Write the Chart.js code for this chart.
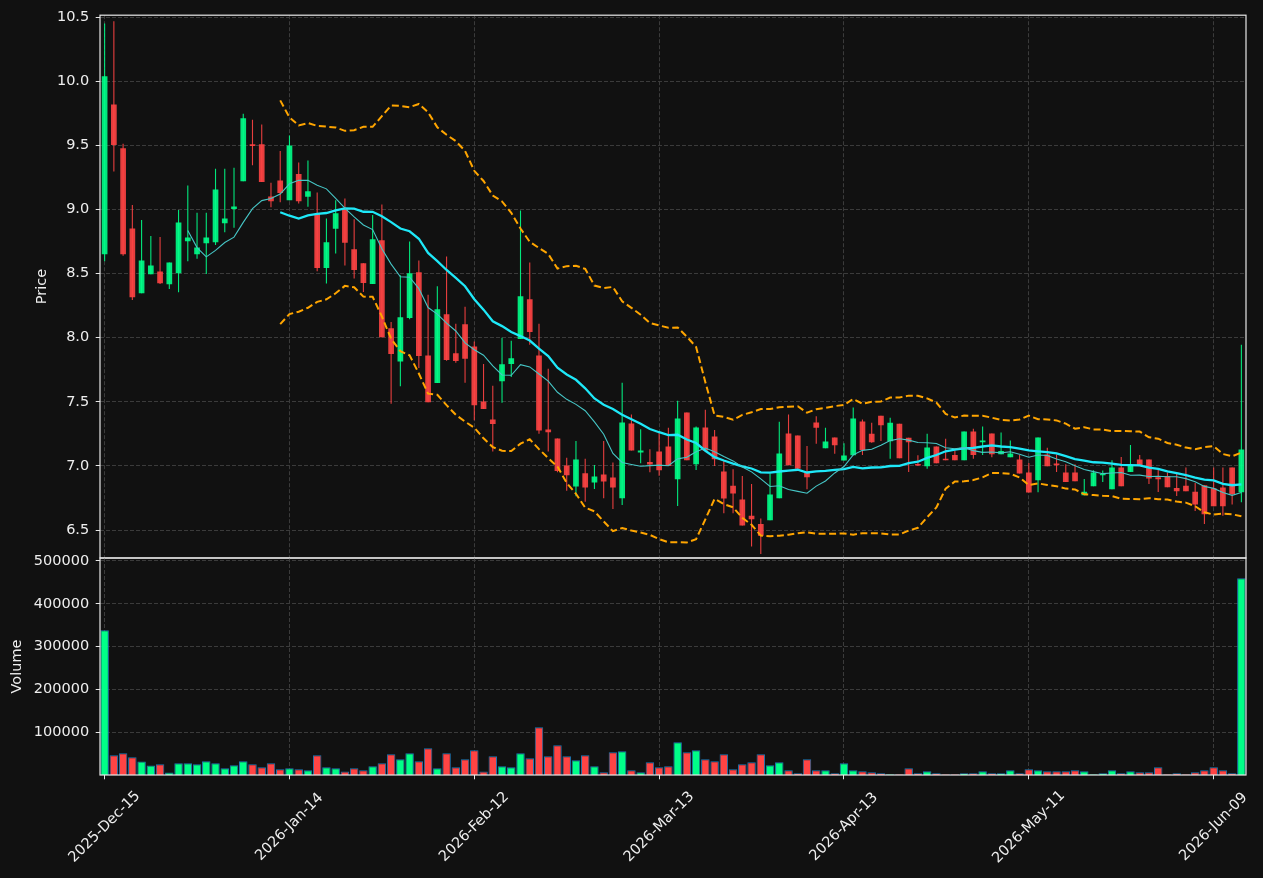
<!DOCTYPE html>
<html>
<head>
<meta charset="utf-8">
<script src="https://cdn.jsdelivr.net/npm/chart.js@4.4.1/dist/chart.umd.min.js"></script>
<style>
html, body { margin: 0; padding: 0; background: #111111; }
#wrap { position: relative; width: 1263px; height: 878px; background: #111111; }
canvas { position: absolute; left: 0; top: 0; }
</style>
</head>
<body>
<div id="wrap">
  <canvas id="price" width="1263" height="878"></canvas>
  <canvas id="vol" width="1263" height="878"></canvas>
</div>
<script>
// ---- data ----
const tickLabels = ['2025-Dec-15', '2026-Jan-14', '2026-Feb-12', '2026-Mar-13', '2026-Apr-13', '2026-May-11', '2026-Jun-09'];
const tickIndex = [0, 20, 40, 60, 80, 100, 120];
const priceTicks = [6.5, 7.0, 7.5, 8.0, 8.5, 9.0, 9.5, 10.0, 10.5];
const volumeTicks = [100000, 200000, 300000, 400000, 500000];

const open = [
  8.651, 9.820, 9.477, 8.852, 8.346, 8.495, 8.516, 8.417, 8.503, 8.753,
  8.651, 8.737, 8.745, 8.893, 9.003, 9.221, 9.508, 9.508, 9.102, 9.227,
  9.073, 9.276, 9.099, 8.964, 8.544, 8.849, 9.008, 8.690, 8.581, 8.419,
  8.760, 8.073, 7.815, 8.154, 8.510, 7.862, 7.646, 8.182, 7.878, 8.104,
  7.932, 7.503, 7.362, 7.661, 7.794, 7.990, 8.299, 7.862, 7.284, 7.214,
  7.003, 6.839, 6.943, 6.870, 6.932, 6.909, 6.747, 7.331, 7.104, 7.030,
  7.112, 7.151, 6.896, 7.417, 7.013, 7.299, 7.229, 6.956, 6.846, 6.737,
  6.612, 6.547, 6.576, 6.747, 7.253, 7.237, 6.945, 7.339, 7.138, 7.221,
  7.042, 7.083, 7.346, 7.250, 7.391, 7.193, 7.328, 7.219, 7.010, 6.997,
  7.151, 7.049, 7.086, 7.044, 7.268, 7.185, 7.253, 7.091, 7.068, 7.049,
  6.948, 6.888, 7.089, 7.018, 6.948, 6.948, 6.771, 6.841, 6.927, 6.818,
  6.987, 6.953, 7.049, 7.049, 6.911, 6.922, 6.828, 6.846, 6.799, 6.849,
  6.826, 6.831, 6.987, 6.794
];
const high = [
  10.450, 10.469, 9.513, 9.036, 8.919, 8.794, 8.786, 8.586, 8.997, 9.188,
  8.974, 8.974, 9.318, 9.318, 9.326, 9.747, 9.700, 9.664, 9.208, 9.456,
  9.578, 9.367, 9.383, 9.133, 8.930, 9.073, 9.086, 8.924, 8.581, 8.958,
  9.039, 8.122, 8.487, 8.750, 8.602, 8.336, 8.401, 8.633, 8.109, 8.242,
  7.971, 7.794, 7.625, 8.000, 7.977, 8.992, 8.586, 8.109, 7.758, 7.214,
  7.063, 7.195, 7.055, 7.008, 7.195, 7.026, 7.648, 7.401, 7.286, 7.130,
  7.258, 7.297, 7.508, 7.417, 7.307, 7.438, 7.281, 7.042, 6.974, 6.922,
  6.859, 6.589, 6.940, 7.344, 7.401, 7.237, 7.156, 7.388, 7.297, 7.221,
  7.177, 7.456, 7.362, 7.336, 7.391, 7.375, 7.328, 7.219, 7.083, 7.250,
  7.151, 7.211, 7.120, 7.268, 7.289, 7.307, 7.253, 7.260, 7.198, 7.086,
  7.023, 7.221, 7.141, 7.089, 7.013, 7.013, 6.898, 6.966, 6.964, 7.044,
  7.070, 7.164, 7.086, 7.049, 6.969, 6.948, 6.938, 6.987, 6.867, 6.849,
  6.987, 6.987, 6.987, 7.945
];
const low = [
  8.596, 9.297, 8.640, 8.294, 8.346, 8.495, 8.419, 8.380, 8.354, 8.596,
  8.615, 8.497, 8.724, 8.823, 8.857, 9.221, 9.346, 9.214, 9.018, 9.057,
  9.073, 9.047, 9.021, 8.518, 8.422, 8.656, 8.563, 8.461, 8.357, 8.419,
  8.003, 7.484, 7.622, 8.143, 7.763, 7.497, 7.646, 7.820, 7.805, 7.648,
  7.357, 7.443, 7.112, 7.492, 7.693, 7.990, 7.945, 7.250, 7.112, 6.951,
  6.807, 6.763, 6.721, 6.820, 6.747, 6.664, 6.695, 7.120, 7.021, 6.950,
  6.924, 7.000, 6.688, 7.044, 6.969, 7.115, 7.000, 6.630, 6.630, 6.536,
  6.372, 6.313, 6.576, 6.747, 7.005, 6.977, 6.818, 7.172, 7.138, 7.094,
  7.042, 7.083, 7.086, 7.180, 7.195, 7.055, 7.060, 6.953, 7.000, 6.977,
  7.021, 7.044, 7.044, 7.044, 7.055, 7.086, 7.068, 7.091, 7.068, 6.940,
  6.792, 6.794, 6.997, 6.953, 6.875, 6.880, 6.771, 6.841, 6.875, 6.818,
  6.841, 6.953, 7.008, 6.859, 6.797, 6.833, 6.766, 6.802, 6.648, 6.547,
  6.685, 6.612, 6.698, 6.716
];
const close = [
  10.039, 9.503, 8.651, 8.315, 8.602, 8.563, 8.424, 8.586, 8.898, 8.781,
  8.703, 8.781, 9.156, 8.930, 9.023, 9.711, 9.495, 9.214, 9.065, 9.128,
  9.500, 9.065, 9.143, 8.544, 8.745, 8.971, 8.740, 8.529, 8.427, 8.768,
  8.003, 7.872, 8.159, 8.503, 7.857, 7.497, 8.221, 7.826, 7.818, 7.836,
  7.474, 7.443, 7.326, 7.792, 7.839, 8.323, 8.044, 7.276, 7.263, 6.961,
  6.927, 7.049, 6.831, 6.917, 6.878, 6.831, 7.339, 7.120, 7.120, 7.010,
  6.966, 7.000, 7.370, 7.044, 7.299, 7.120, 7.052, 6.745, 6.784, 6.536,
  6.583, 6.456, 6.776, 7.096, 7.005, 6.977, 6.911, 7.297, 7.190, 7.161,
  7.081, 7.370, 7.125, 7.185, 7.318, 7.336, 7.060, 7.185, 7.003, 7.143,
  7.021, 7.044, 7.044, 7.268, 7.086, 7.198, 7.091, 7.117, 7.096, 6.940,
  6.792, 7.221, 6.997, 7.005, 6.875, 6.880, 6.799, 6.948, 6.937, 6.987,
  6.841, 7.000, 7.008, 6.901, 6.896, 6.833, 6.802, 6.802, 6.698, 6.622,
  6.685, 6.685, 6.779, 7.128
];
const volume = [
  338000, 46300, 51000, 41600, 31500, 22200, 25300, 5800, 27600, 27600,
  25300, 32300, 27600, 16000, 23000, 32300, 25300, 18300, 27600, 13600,
  16000, 13600, 11300, 46300, 18300, 16000, 8200, 16000, 11300, 20600,
  27600, 48600, 37000, 51000, 32300, 62600, 16000, 51000, 18300, 37000,
  58000, 8200, 44000, 20600, 18300, 51000, 39300, 111700, 44000, 69600,
  44000, 34600, 46300, 20600, 6600, 53300, 55600, 11300, 6600, 30000,
  18300, 20600, 76700, 53300, 58000, 37000, 32300, 48600, 13600, 25300,
  30000, 48600, 23000, 30000, 11300, 4300, 37000, 11300, 11300, 4300,
  27600, 11300, 9000, 6600, 4300, 2000, 2000, 16000, 4300, 9000,
  4300, 2000, 2000, 4300, 4300, 9000, 4300, 4300, 11300, 4300,
  13600, 11300, 9000, 9000, 9000, 11300, 9000, 2000, 4300, 11300,
  4300, 9000, 6600, 6600, 18300, 2000, 4300, 2000, 6600, 11300,
  18300, 11300, 4300, 459500
];

// ---- indicators derived from the closes ----
function sma(arr, n) {
  return arr.map((_, i) => {
    if (i < n - 1) return null;
    let s = 0;
    for (let k = i - n + 1; k <= i; k++) s += arr[k];
    return s / n;
  });
}
function band(arr, n, k) {
  const m = sma(arr, n);
  return arr.map((_, i) => {
    if (m[i] === null) return null;
    let s = 0;
    for (let j = i - n + 1; j <= i; j++) s += (arr[j] - m[i]) ** 2;
    return m[i] + k * Math.sqrt(s / n);
  });
}
const ma10 = sma(close, 10);
const ma20 = sma(close, 20);
const bbUpper = band(close, 20, 2);
const bbLower = band(close, 20, -2);

// ---- styling ----
Chart.defaults.font.family = "'DejaVu Sans', sans-serif";
Chart.defaults.font.size = 14.5;
Chart.defaults.color = '#eeeeee';

const N = close.length;
const UP = 'rgba(0,255,136,0.9)', DN = 'rgba(255,68,68,0.9)';
const candleColor = close.map((c, i) => c >= open[i] ? UP : DN);
const volColor = close.map((c, i) => c >= open[i] ? '#00ff88' : '#ff4444');
const GRID = '#3b3b3b';
const TICK = '#e6e6e6';
const xy = arr => arr.map((v, i) => ({ x: i, y: v }));

const frame = {
  id: 'frame',
  afterDraw(chart) {
    const { ctx, chartArea: a } = chart;
    ctx.save();
    ctx.strokeStyle = '#e8e8e8';
    ctx.lineWidth = 1.2;
    ctx.strokeRect(a.left, a.top, a.right - a.left, a.bottom - a.top);
    ctx.restore();
  }
};
const xLabels = {
  id: 'xLabels',
  afterDraw(chart) {
    const { ctx } = chart;
    const sx = chart.scales.x;
    ctx.save();
    ctx.font = "14.5px 'DejaVu Sans', sans-serif";
    ctx.fillStyle = '#eeeeee';
    ctx.textAlign = 'center';
    ctx.textBaseline = 'middle';
    tickIndex.forEach((idx, k) => {
      const x = sx.getPixelForValue(idx);
      ctx.save();
      ctx.translate(x, 827);
      ctx.rotate(-Math.PI / 4);
      ctx.fillText(tickLabels[k], 0, 0);
      ctx.restore();
    });
    ctx.restore();
  }
};

function xScale(drawTicks, height) {
  return {
    type: 'linear', min: -0.5, max: N - 0.5, offset: false,
    afterFit: s => { s.height = height; },
    afterBuildTicks: s => { s.ticks = tickIndex.map(v => ({ value: v })); },
    ticks: { display: false, autoSkip: false },
    grid: { offset: false, color: GRID, lineWidth: 1, drawTicks: drawTicks, tickLength: 4.3,
            tickColor: TICK, tickWidth: 1 },
    border: { display: false, dash: [4, 2] }
  };
}
const common = {
  responsive: false, animation: false, devicePixelRatio: 1, events: [],
};

new Chart(document.getElementById('price'), {
  type: 'bar',
  data: {
    datasets: [
      { type: 'bar', label: 'wick', data: low.map((l, i) => ({ x: i, y: [l, high[i]] })),
        backgroundColor: candleColor, grouped: false, categoryPercentage: 1, barPercentage: 0.12,
        maxBarThickness: 1.1, order: 5 },
      { type: 'bar', label: 'body', data: open.map((o, i) => ({ x: i, y: [o, close[i]] })),
        backgroundColor: candleColor, grouped: false, categoryPercentage: 1, barPercentage: 0.62,
        maxBarThickness: 5.7, minBarLength: 1.5, order: 4 },
      { type: 'line', label: 'BB upper', data: xy(bbUpper), borderColor: '#ffa500', borderWidth: 2,
        borderDash: [7, 3.5], pointRadius: 0, tension: 0, order: 3 },
      { type: 'line', label: 'BB lower', data: xy(bbLower), borderColor: '#ffa500', borderWidth: 2,
        borderDash: [7, 3.5], pointRadius: 0, tension: 0, order: 3 },
      { type: 'line', label: 'MA20', data: xy(ma20), borderColor: '#1ee8f8', borderWidth: 2.3,
        pointRadius: 0, tension: 0, order: 2 },
      { type: 'line', label: 'MA10', data: xy(ma10), borderColor: '#46c6c6', borderWidth: 1.1,
        pointRadius: 0, tension: 0, order: 1 }
    ]
  },
  options: Object.assign({}, common, {
    layout: { padding: { top: 15, right: 17, left: 0, bottom: 0 } },
    plugins: { legend: { display: false }, tooltip: { enabled: false } },
    scales: {
      x: xScale(false, 320),
      y: {
        type: 'linear', position: 'left', min: 6.2816, max: 10.5156,
        afterFit: s => { s.width = 100; },
        afterBuildTicks: s => { s.ticks = priceTicks.map(v => ({ value: v })); },
        ticks: { padding: 6.5, color: '#eeeeee', callback: v => Number(v).toFixed(1) },
        grid: { color: GRID, lineWidth: 1, drawTicks: true, tickLength: 4.3, tickColor: TICK, tickWidth: 1 },
        border: { display: false, dash: [4, 2] },
        title: { display: true, text: 'Price', color: '#eeeeee', padding: { top: 33.3, bottom: 0 } }
      }
    }
  }),
  plugins: [frame]
});

new Chart(document.getElementById('vol'), {
  type: 'bar',
  data: {
    datasets: [
      { type: 'bar', label: 'Volume', data: xy(volume), backgroundColor: volColor,
        borderColor: '#1f77b4', borderWidth: 1, grouped: false, categoryPercentage: 1,
        barPercentage: 0.92, maxBarThickness: 8.5 }
    ]
  },
  options: Object.assign({}, common, {
    layout: { padding: { top: 558, right: 17, left: 0, bottom: 0 } },
    plugins: { legend: { display: false }, tooltip: { enabled: false } },
    scales: {
      x: xScale(true, 103),
      y: {
        type: 'linear', position: 'left', min: 0, max: 507000,
        afterFit: s => { s.width = 100; },
        afterBuildTicks: s => { s.ticks = volumeTicks.map(v => ({ value: v })); },
        ticks: { padding: 6.5, color: '#eeeeee', callback: v => String(v) },
        grid: { color: GRID, lineWidth: 1, drawTicks: true, tickLength: 4.3, tickWidth: 1, tickColor: TICK },
        border: { display: false, dash: [4, 2] },
        title: { display: true, text: 'Volume', color: '#eeeeee', padding: { top: 8.3, bottom: 0 } }
      }
    }
  }),
  plugins: [frame, xLabels]
});
</script>
</body>
</html>
